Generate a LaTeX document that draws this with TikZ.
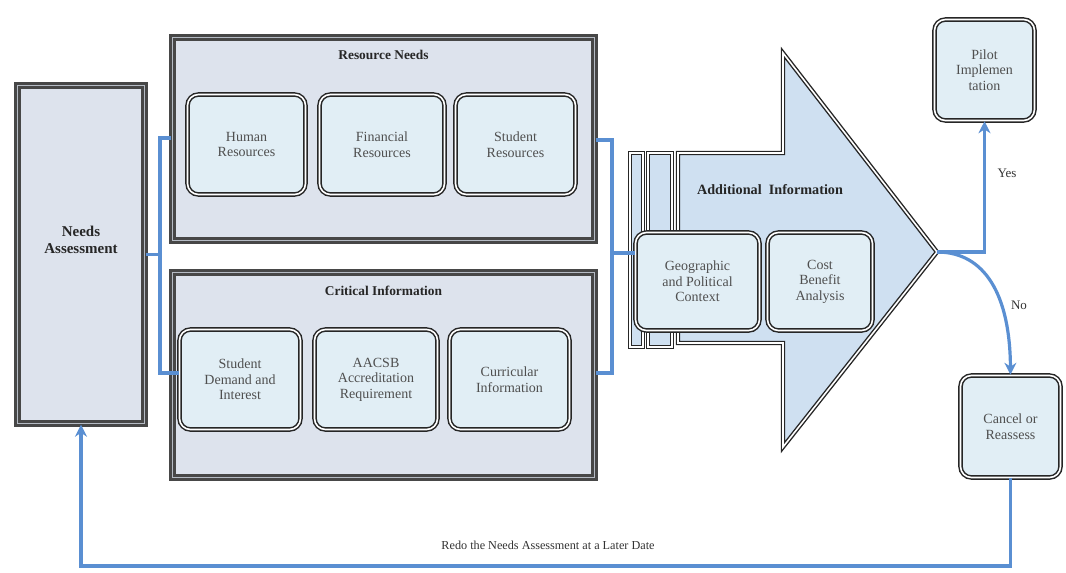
\documentclass[tikz,border=0pt]{standalone}
\usepackage{fontspec}
\setmainfont{Liberation Serif}
\usetikzlibrary{arrows.meta,shadows}

\definecolor{panelfill}{HTML}{DDE3ED}
\definecolor{panelgap}{HTML}{B5BBC4}
\definecolor{cardfill}{HTML}{E1EEF5}
\definecolor{arrowfill}{HTML}{CFE0F1}
\definecolor{frame}{HTML}{474747}
\definecolor{linkblue}{HTML}{5A8FD2}
\definecolor{cardtext}{HTML}{4F4F4F}

\tikzset{
  panel/.style={draw=frame, line width=2.4pt, double=panelgap, double distance=1.3pt,
    fill=panelfill, inner sep=0pt},
  card/.style={draw=black!85, line width=1.5pt, double=white, double distance=1.6pt,
    rounded corners=11pt, fill=cardfill, text=cardtext, align=center,
    font=\fontsize{14}{15.5}\selectfont, inner sep=2pt,
    drop shadow={opacity=0.4, shadow xshift=1.2pt, shadow yshift=-1.8pt}},
  bigarrow/.style={draw=black!85, line width=1.4pt, double=white, double distance=1.6pt,
    fill=arrowfill, line join=miter},
  strip/.style={draw=black!85, line width=1.3pt, double=white, double distance=1.3pt,
    fill=arrowfill},
  heading/.style={font=\bfseries\fontsize{13.4}{15}\selectfont, text=black!85, align=center},
  link/.style={draw=linkblue, line width=3.2pt},
  linkarrow/.style={link, -{Stealth[length=12pt,width=12pt]}},
  tag/.style={font=\fontsize{13}{15}\selectfont, text=black!80},
  x=1pt, y=-1pt
}

\begin{document}
\begin{tikzpicture}
\useasboundingbox (0,0) rectangle (1066,573);

% left column and the two grouped panels
\node[panel, minimum width=127, minimum height=338] (na) at (81,254.5) {};
\node[heading, font=\bfseries\fontsize{15}{16.5}\selectfont] (natext) at (81,240) {Needs\\Assessment};

\node[panel, minimum width=422, minimum height=203] (res) at (383.5,139) {};
\node[heading] (restitle) at (383.5,55) {Resource Needs};
\node[card, minimum width=118, minimum height=100] (hum) at (246.5,144.5) {Human\\Resources};
\node[card, minimum width=125, minimum height=100] (fin) at (382,144.5) {Financial\\Resources};
\node[card, minimum width=120, minimum height=100] (stu) at (515.5,144.5) {Student\\Resources};

\node[panel, minimum width=422, minimum height=205] (crit) at (383.5,375) {};
\node[heading] (crittitle) at (383.5,291) {Critical Information};
\node[card, minimum width=121, minimum height=100] (sdi) at (240,379.5) {Student\\Demand and\\Interest};
\node[card, minimum width=123, minimum height=100] (aacsb) at (376,379.5) {AACSB\\Accreditation\\Requirement};
\node[card, minimum width=120, minimum height=100] (cur) at (509.5,379.5) {Curricular\\Information};

% big arrow with its stacked strips
\coordinate (tip) at (937,252);
\draw[bigarrow] (678,153) -- (783,153) -- (783,53) -- (tip) -- (783,447) -- (783,343) -- (678,343) -- cycle;
\draw[strip] (630,153) rectangle (643,347);
\draw[strip] (648,153) rectangle (672,347);
\node[heading, font=\bfseries\fontsize{14.2}{16}\selectfont] (addtitle) at (770,190) {Additional~ Information};
\node[card, minimum width=124, minimum height=98] (geo) at (697.5,281.5) {Geographic\\and Political\\Context};
\node[card, minimum width=105, minimum height=98] (cba) at (820,281.5) {Cost\\Benefit\\Analysis};

% outcome boxes
\node[card, minimum width=100, minimum height=101] (pilot) at (984.5,70) {Pilot\\Implemen\\tation};
\node[card, minimum width=100, minimum height=102] (cancel) at (1010.5,426.5) {Cancel or\\Reassess};

% brackets joining the panels
\coordinate (lt) at (160,138);
\coordinate (lb) at (160,373);
\draw[link] (na.east) -- (na.east -| lt);
\draw[link] (res.west |- lt) -- (lt) -- (lb) -- (sdi.west |- lb);

\coordinate (rt) at (612,140);
\coordinate (rb) at (612,373);
\coordinate (rm) at (612,253);
\draw[link] (res.east |- rt) -- (rt) -- (rb) -- (crit.east |- rb);
\draw[link] (rm) -- (rm -| geo.west);

% decision branches
\draw[linkarrow] (tip) -- (tip -| pilot.south) -- (pilot.south);
\node[tag] (yes) at (1007,173) {Yes};
\draw[linkarrow] (tip) .. controls (985,252) and (1010,295) .. (cancel.north);
\node[tag] (no) at (1019,305) {No};

% loop back to the start
\coordinate (low) at (0,566);
\draw[linkarrow] (cancel.south) -- (cancel.south |- low) -- (na.south |- low) -- (na.south);
\node[tag, font=\fontsize{12.2}{14}\selectfont] (redo) at (548,545) {Redo the Needs Assessment at a Later Date};
\end{tikzpicture}
\end{document}
